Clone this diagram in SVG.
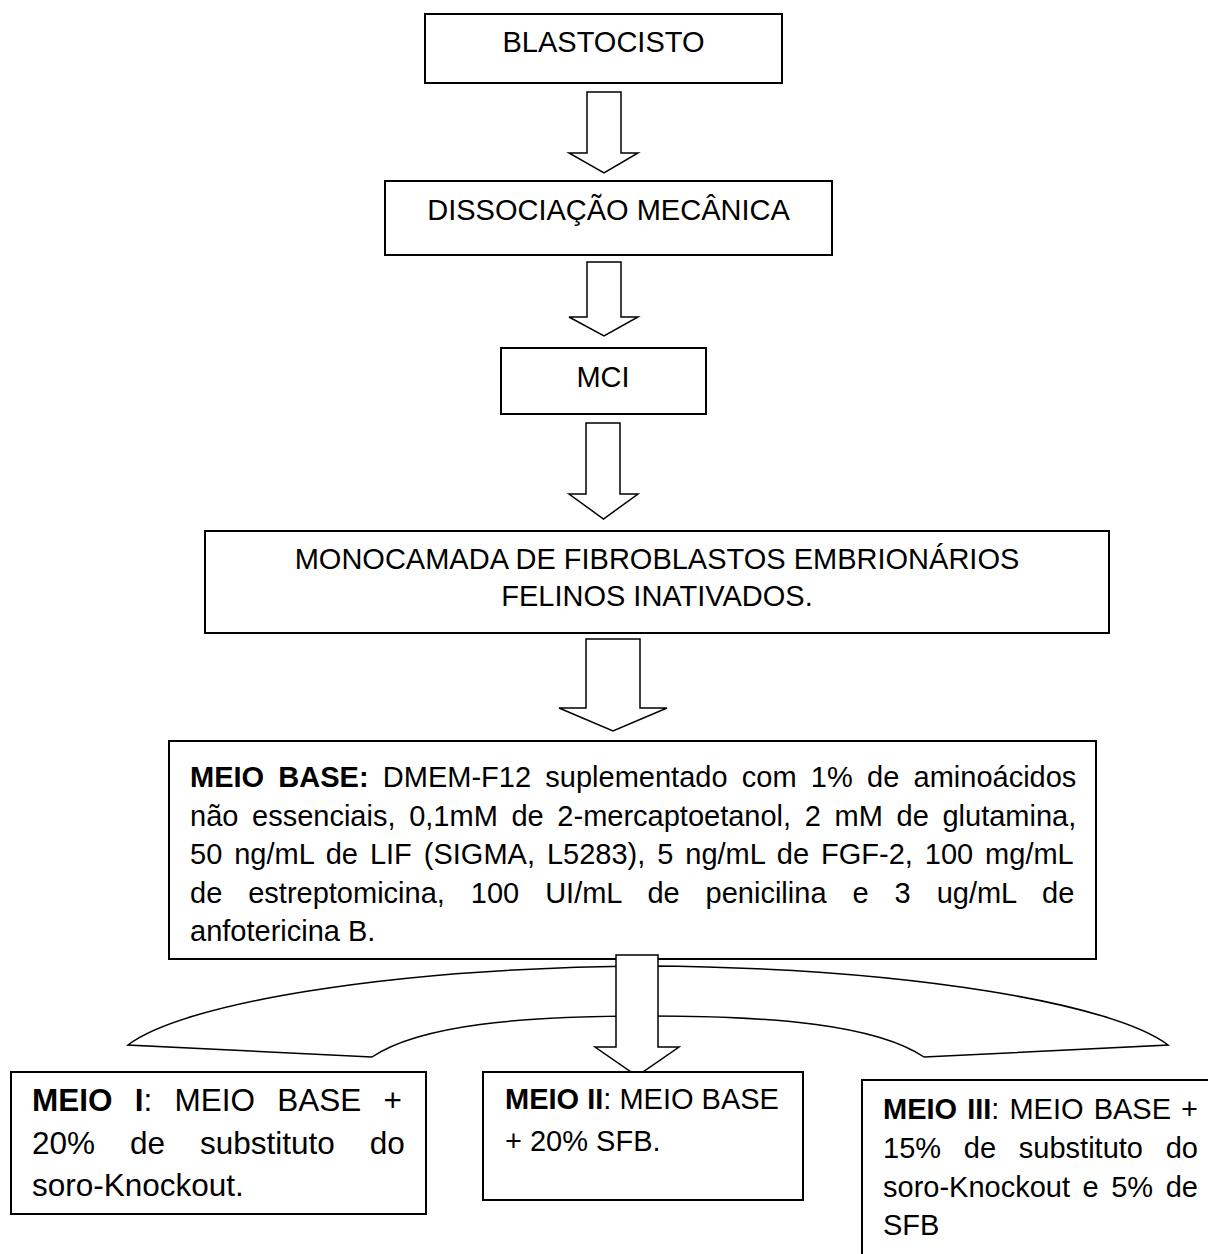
<svg xmlns="http://www.w3.org/2000/svg" width="1208" height="1254" viewBox="0 0 1208 1254">
<style>
.box{fill:#fff;stroke:#000;stroke-width:2}
.arr{fill:#fff;stroke:#000;stroke-width:1.5;stroke-linejoin:miter}
text{font-family:"Liberation Sans",Arial,sans-serif;font-size:29px;fill:#000}
.c{text-anchor:middle}
.b{font-weight:bold}
.f31{font-size:31.5px}
</style>
<rect width="1208" height="1254" fill="#fff"/>
<g id="blastocisto">
<rect class="box" x="425" y="14" width="357" height="69"/>
<text class="c" x="603.5" y="52">BLASTOCISTO</text>
</g>
<g id="dissociacao">
<rect class="box" x="385" y="181" width="447" height="74"/>
<text class="c" x="608.5" y="220">DISSOCIAÇÃO MECÂNICA</text>
</g>
<g id="mci">
<rect class="box" x="501" y="348" width="205" height="66"/>
<text class="c" x="603" y="387">MCI</text>
</g>
<g id="monocamada">
<rect class="box" x="205" y="531" width="904" height="102"/>
<text class="c" x="657" y="569">MONOCAMADA DE FIBROBLASTOS EMBRIONÁRIOS</text>
<text class="c" x="657" y="606">FELINOS INATIVADOS.</text>
</g>
<g id="meio-base">
<rect class="box" x="169" y="741" width="927" height="218"/>
<text x="190" y="787" word-spacing="6.2"><tspan class="b">MEIO BASE:</tspan> DMEM-F12 suplementado com 1% de aminoácidos</text>
<text x="190" y="825.5" word-spacing="5.6">não essenciais, 0,1mM de 2-mercaptoetanol, 2 mM de glutamina,</text>
<text x="190" y="864" word-spacing="3.9">50 ng/mL de LIF (SIGMA, L5283), 5 ng/mL de FGF-2, 100 mg/mL</text>
<text x="190" y="902.5" word-spacing="17.9">de estreptomicina, 100 UI/mL de penicilina e 3 ug/mL de</text>
<text x="190" y="941">anfotericina B.</text>
</g>
<g id="connectors">
<path class="arr" d="M587 92 L621 92 L621 153 L638 153 L604 173 L569 153 L587 153 Z"/>
<path class="arr" d="M587 262 L621 262 L621 317 L638 317 L604 336 L569 317 L587 317 Z"/>
<path class="arr" d="M586 423 L620 423 L620 494 L638 494 L603.5 519 L569 494 L586 494 Z"/>
<path class="arr" d="M586 639 L640 639 L640 708 L667 708 L613 731 L559 708 L586 708 Z"/>
<path class="arr" d="M648 966 C380 968 180 1005 128 1045 L372 1057 C420 1025 520 1016 648 1016 C776 1016 876 1025 924 1057 L1168 1045 C1116 1005 916 968 648 966 Z"/>
<path class="arr" d="M616 955 L658 955 L658 1047 L679 1047 L637 1076 L595 1047 L616 1047 Z"/>
</g>
<g id="meio-i">
<rect class="box" x="11" y="1072" width="415" height="142"/>
<text class="f31" x="32" y="1111" word-spacing="13.5"><tspan class="b">MEIO I</tspan>: MEIO BASE +</text>
<text class="f31" x="32" y="1154" word-spacing="26.2">20% de substituto do</text>
<text class="f31" x="32" y="1196">soro-Knockout.</text>
</g>
<g id="meio-ii">
<rect class="box" x="483" y="1072" width="320" height="128"/>
<text x="505" y="1109"><tspan class="b">MEIO II</tspan>: MEIO BASE</text>
<text x="505" y="1151">+ 20% SFB.</text>
</g>
<g id="meio-iii">
<rect class="box" x="862" y="1080" width="360" height="190"/>
<text x="883" y="1119" word-spacing="2"><tspan class="b">MEIO III</tspan>: MEIO BASE +</text>
<text x="883" y="1158" word-spacing="14.7">15% de substituto do</text>
<text x="883" y="1197" word-spacing="4.5">soro-Knockout e 5% de</text>
<text x="883" y="1235">SFB</text>
</g>
</svg>
